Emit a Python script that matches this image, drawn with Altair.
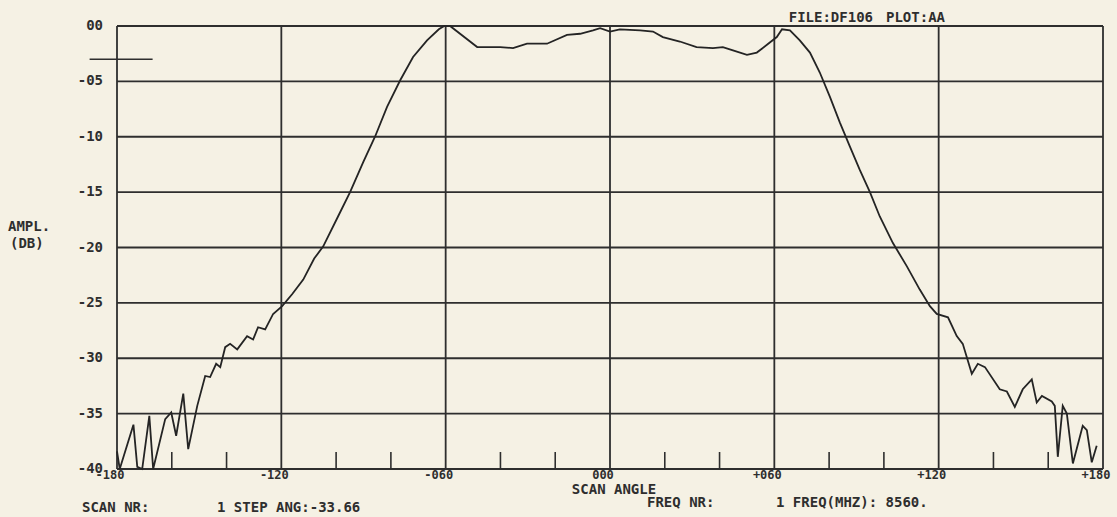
import altair as alt
import pandas as pd

# ---- data ----
scan_angle = [-180, -179, -174, -172.6, -170.8, -168.2, -166.8, -162.4, -160.2, -158.4,
              -155.8, -154.0, -150.7, -147.8, -146.0, -143.8, -142.3, -140.5, -138.7, -136.1,
              -132.5, -130.3, -128.5, -125.9, -123.0, -119.7, -116.0, -112.0, -108.0, -104.7,
              -99.3, -94.9, -90.1, -85.8, -81.4, -76.6, -71.9, -66.8, -62.5, -60.5,
              -58.4, -48.5, -40.1, -35.4, -30.3, -23.0, -15.7, -10.9, -6.2, -3.6,
              0.0, 3.6, 11.0, 15.7, 19.3, 25.5, 31.6, 37.6, 41.2, 44.9,
              50.0, 53.6, 57.3, 60.9, 62.8, 65.7, 69.3, 73.0, 76.6, 80.3,
              83.9, 87.6, 91.2, 94.9, 98.5, 103.3, 108.4, 113.1, 116.8, 119.3,
              123.4, 126.6, 128.8, 132.1, 134.3, 136.9, 142.3, 144.9, 147.8, 150.7,
              154.0, 155.8, 157.7, 161.3, 162.4, 163.5, 165.3, 166.8, 169.0, 172.6,
              174.1, 175.9, 177.7]
ampl_db = [-38.4, -40.0, -36.0, -39.8, -40.0, -35.2, -40.0, -35.5, -34.9, -37.0,
           -33.2, -38.2, -34.3, -31.6, -31.7, -30.5, -30.8, -29.0, -28.7, -29.2,
           -28.0, -28.3, -27.2, -27.4, -26.0, -25.3, -24.2, -22.9, -21.0, -19.9,
           -17.2, -15.0, -12.3, -10.0, -7.3, -4.9, -2.8, -1.3, -0.3, 0.0,
           0.0, -1.9, -1.9, -2.0, -1.6, -1.6, -0.8, -0.7, -0.4, -0.2,
           -0.5, -0.3, -0.4, -0.5, -1.0, -1.4, -1.9, -2.0, -1.9, -2.2,
           -2.6, -2.4, -1.7, -1.0, -0.3, -0.4, -1.3, -2.4, -4.2, -6.4,
           -8.7, -10.9, -13.0, -15.0, -17.2, -19.6, -21.7, -23.8, -25.3, -26.0,
           -26.3, -28.0, -28.7, -31.4, -30.5, -30.8, -32.8, -33.0, -34.4, -32.8,
           -31.9, -34.0, -33.4, -33.9, -34.3, -38.9, -34.3, -35.0, -39.5, -36.1,
           -36.5, -39.4, -37.9]

y_tick_values = [0, -5, -10, -15, -20, -25, -30, -35, -40]
y_tick_labels = ["00", "-05", "-10", "-15", "-20", "-25", "-30", "-35", "-40"]
x_grid_values = [-180, -120, -60, 0, 60, 120, 180]
x_tick_labels = ["-180", "-120", "-060", "000", "+060", "+120", "+180"]
x_minor_ticks = [-160, -140, -100, -80, -40, -20, 20, 40, 80, 100, 140, 160]
marker_angle = [-190, -167]
marker_db = [-3, -3]

W, H = 986, 443
INK = "#2e2e2e"
FONT = "DejaVu Sans Mono"

xs = alt.Scale(domain=[-180, 180], nice=False, zero=False)
ys = alt.Scale(domain=[-40, 0], nice=False, zero=False)

curve_df = pd.DataFrame({"angle": scan_angle, "db": ampl_db})
ygrid_df = pd.DataFrame({"v": y_tick_values, "lab": y_tick_labels})
xgrid_df = pd.DataFrame({"v": x_grid_values, "lab": x_tick_labels})
minor_df = pd.DataFrame({"v": x_minor_ticks})
marker_df = pd.DataFrame({"angle": marker_angle, "db": marker_db})

hgrid = alt.Chart(ygrid_df).mark_rule(color=INK, strokeWidth=1.8).encode(
    y=alt.Y("v:Q", scale=ys, axis=None), x=alt.value(0), x2=alt.value(W))
vgrid = alt.Chart(xgrid_df).mark_rule(color=INK, strokeWidth=1.8).encode(
    x=alt.X("v:Q", scale=xs, axis=None), y=alt.value(0), y2=alt.value(H))
minor = alt.Chart(minor_df).mark_rule(color=INK, strokeWidth=1.6).encode(
    x=alt.X("v:Q", scale=xs, axis=None), y=alt.value(H - 17), y2=alt.value(H))

curve = alt.Chart(curve_df).mark_line(color="#242424", strokeWidth=1.8).encode(
    x=alt.X("angle:Q", scale=xs, axis=None), y=alt.Y("db:Q", scale=ys, axis=None),
    order="angle:Q")
marker = alt.Chart(marker_df).mark_line(color=INK, strokeWidth=1.6, clip=False).encode(
    x=alt.X("angle:Q", scale=xs, axis=None), y=alt.Y("db:Q", scale=ys, axis=None))

ylabels = alt.Chart(ygrid_df).mark_text(align="right", baseline="middle", font=FONT,
                                        fontSize=14, fontWeight="bold", color=INK).encode(
    y=alt.Y("v:Q", scale=ys, axis=None), x=alt.value(-14), text="lab:N")
xlabels = alt.Chart(xgrid_df).mark_text(align="center", baseline="top", font=FONT,
                                        fontSize=12, fontWeight="bold", color=INK,
                                        dx=-7).encode(
    x=alt.X("v:Q", scale=xs, axis=None), y=alt.value(H + 1), text="lab:N")

ann_df = pd.DataFrame({
    "t": ["FILE:DF106", "PLOT:AA", "AMPL.", "(DB)", "SCAN ANGLE", "FREQ NR:",
          "1 FREQ(MHZ): 8560.", "SCAN NR:", "1 STEP ANG:-33.66"],
    "px": [756, 769, -109, -107, 497, 530, 659, -35, 100],
    "py": [-4, -4, 205, 222, 468, 481, 481, 486, 486],
    "al": ["right", "left", "left", "left", "center", "left", "left", "left", "left"],
})


def ann_layer(al):
    return alt.Chart(ann_df).transform_filter(f"datum.al == '{al}'").mark_text(
        align=al, baseline="alphabetic", font=FONT, fontSize=14, fontWeight="bold",
        color=INK).encode(x=alt.X("px:Q", scale=None), y=alt.Y("py:Q", scale=None),
                          text="t:N")


chart = alt.layer(hgrid, vgrid, minor, curve, marker, ylabels, xlabels,
                  ann_layer("left"), ann_layer("right"), ann_layer("center")).properties(
    width=W, height=H, autosize="none",
    padding={"left": 117, "top": 26, "right": 14, "bottom": 48},
).configure(background="#f5f1e4").configure_view(stroke=None)

chart.save("out.html", embed_options={"renderer": "svg", "actions": False})
